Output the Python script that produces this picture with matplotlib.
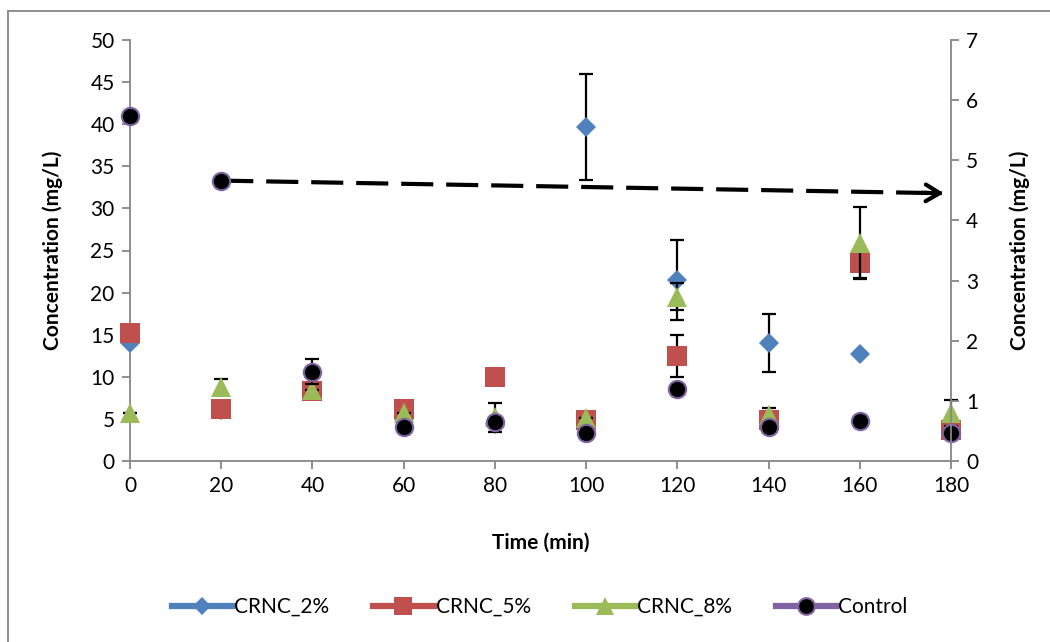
import matplotlib
matplotlib.use('Agg')
import matplotlib.pyplot as plt
from matplotlib.lines import Line2D
from matplotlib.patches import Rectangle

plt.rcParams['font.family'] = ['Lato', 'DejaVu Sans']

### data
time = [0, 20, 40, 60, 80, 100, 120, 140, 160, 180]

crnc2 = [14.0, 6.0, 8.3, 5.0, 4.4, 39.7, 21.5, 14.0, 12.7, 3.5]
crnc2Err = [0, 0, 0, 0, 0, 6.3, 4.7, 3.45, 0, 0]

crnc5 = [15.2, 6.2, 8.3, 6.2, 10.0, 4.9, 12.5, 4.9, 23.5, 3.7]
crnc5Err = [0, 0, 0, 0, 0, 0, 2.5, 0, 1.8, 0]

crnc8 = [5.7, 8.8, 8.4, 5.7, 5.2, 5.1, 19.5, 5.5, 25.9, 5.7]
crnc8Err = [0, 0.9, 0, 0, 1.7, 0, 1.6, 0.8, 4.3, 1.5]

control = [41.0, 33.3, 10.6, 4.0, 4.6, 3.3, 8.5, 4.0, 4.7, 3.3]
controlErr = [0, 0, 1.5, 0, 0, 0, 0, 0, 0, 0]

seriesNames = ['CRNC_2%', 'CRNC_5%', 'CRNC_8%', 'Control']
xTicks = [0, 20, 40, 60, 80, 100, 120, 140, 160, 180]
yTicksLeft = [0, 5, 10, 15, 20, 25, 30, 35, 40, 45, 50]
yTicksRight = [0, 1, 2, 3, 4, 5, 6, 7]

# arrow runs from the control point at 20 min towards the right axis
arrowStart = (time[1], control[1])
arrowEnd = (179, 31.8)

###############################################################################
colors = ['#4F81BD', '#C0504D', '#9BBB59', '#8064A2']
markers = ['D', 's', '^', 'o']
msizes = [10, 14, 14, 12.5]
gray = '#868686'

fig = plt.figure(figsize=(10.5, 6.42), dpi=100)
ax = fig.add_axes([130 / 1050, 1 - 461 / 642, 821 / 1050, 421 / 642])

# chart-area border (only top and left visible, rest cropped)
fig.patches.append(Rectangle((8 / 1050, -0.1), 1.2, (1 - 11 / 642) + 0.1, transform=fig.transFigure,
                             fill=False, edgecolor=gray, linewidth=1.3))

allY = [crnc2, crnc5, crnc8, control]
allErr = [crnc2Err, crnc5Err, crnc8Err, controlErr]
for i in range(4):
    eb = ax.errorbar(time, allY[i], yerr=allErr[i], fmt='none', ecolor='black', elinewidth=1.6,
                     capsize=5, capthick=1.6, zorder=2 + i * 2)
    for art in eb.lines[1] + eb.lines[2]:
        art.set_clip_on(False)
    if i == 3:
        ax.plot(time, allY[i], linestyle='none', marker='o', ms=msizes[i], markerfacecolor='black',
                markeredgecolor=colors[i], markeredgewidth=1.5, zorder=3 + i * 2, clip_on=False)
    else:
        ax.plot(time, allY[i], linestyle='none', marker=markers[i], ms=msizes[i], color=colors[i],
                markeredgewidth=0, zorder=3 + i * 2, clip_on=False)

# dashed arrow
ax.plot([arrowStart[0], arrowEnd[0] - 1], [arrowStart[1], arrowEnd[1]], color='black', lw=3,
        dashes=(7.7, 3.1), zorder=1)
ax.annotate('', xy=arrowEnd, xytext=(arrowEnd[0] - 6, arrowEnd[1] + 0.06),
            arrowprops=dict(arrowstyle='->,head_length=1.0,head_width=0.6', color='black', lw=3),
            zorder=1)

ax.set_xlim(0, 180)
ax.set_ylim(0, 50)
ax.set_xticks(xTicks)
ax.set_yticks(yTicksLeft)
ax.set_xlabel('Time (min)', fontsize=15, fontweight='bold', labelpad=26)
ax.set_ylabel('Concentration (mg/L)', fontsize=15, fontweight='bold', labelpad=20)
ax.tick_params(axis='both', colors=gray, labelcolor='black', labelsize=15, length=6, width=1.3,
               direction='out', pad=5)
ax.spines['top'].set_visible(False)
ax.spines['right'].set_visible(False)
for s in ['left', 'bottom']:
    ax.spines[s].set_color(gray)
    ax.spines[s].set_linewidth(1.3)

ax2 = ax.twinx()
ax2.set_ylim(0, 7)
ax2.set_yticks(yTicksRight)
ax2.set_ylabel('Concentration (mg/L)', fontsize=15, fontweight='bold', labelpad=22)
ax2.tick_params(axis='y', colors=gray, labelcolor='black', labelsize=15, length=6, width=1.3,
                direction='out', pad=5)
for s in ['top', 'left', 'bottom']:
    ax2.spines[s].set_visible(False)
ax2.spines['right'].set_color(gray)
ax2.spines['right'].set_linewidth(1.3)

# legend in line-with-markers style
handles = []
for i in range(4):
    if i == 3:
        h = Line2D([], [], color=colors[i], lw=4.5, marker='o', ms=12, markerfacecolor='black',
                   markeredgecolor=colors[i], markeredgewidth=1.5)
    else:
        h = Line2D([], [], color=colors[i], lw=4.5, marker=markers[i], ms=msizes[i] * 0.95,
                   markeredgewidth=0)
    handles.append(h)
fig.legend(handles, seriesNames, loc='center', bbox_to_anchor=(0.514, 1 - 607 / 642), ncol=4,
           frameon=False, fontsize=15, handlelength=2.9, handletextpad=0.1, columnspacing=2.1)

fig.savefig('out.png', dpi=100)
